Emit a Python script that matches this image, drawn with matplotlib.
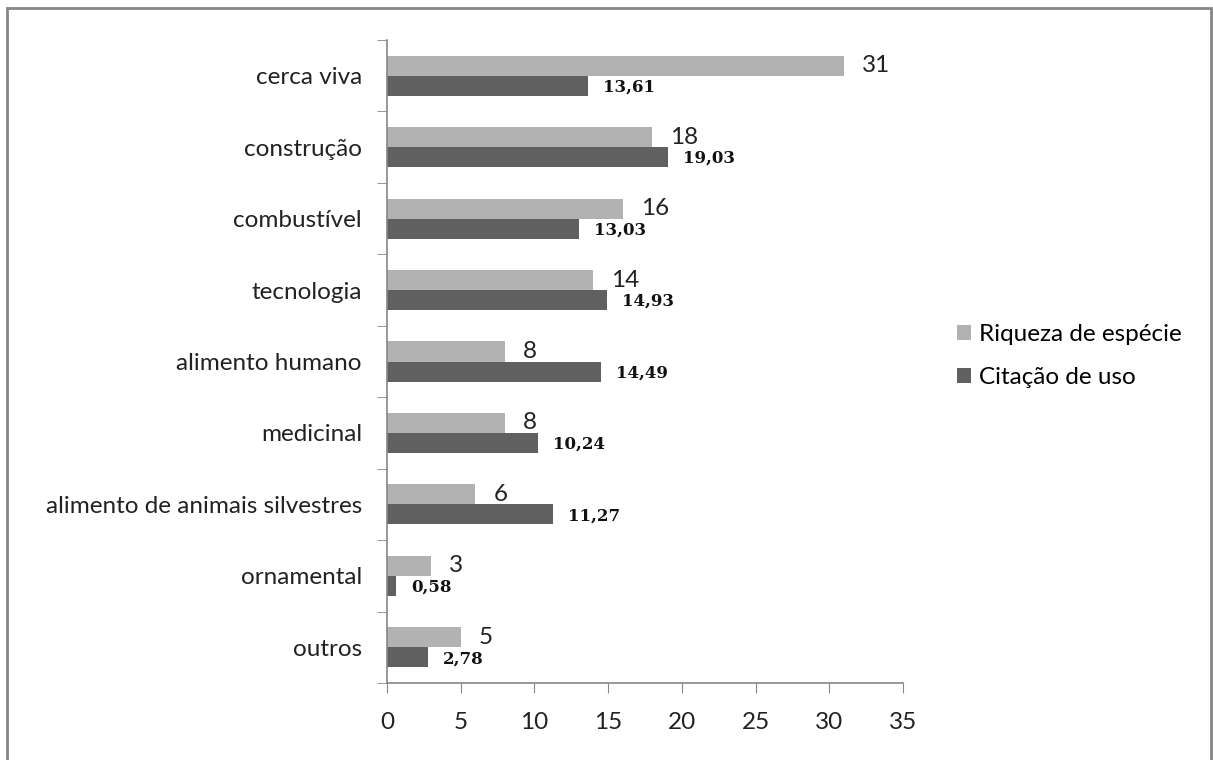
import numpy as np
import matplotlib.pyplot as plt
from matplotlib.patches import Rectangle

categorias = ['cerca viva', 'construção', 'combustível', 'tecnologia', 'alimento humano',
              'medicinal', 'alimento de animais silvestres', 'ornamental', 'outros']
riqueza = [31, 18, 16, 14, 8, 8, 6, 3, 5]
citacao = [13.61, 19.03, 13.03, 14.93, 14.49, 10.24, 11.27, 0.58, 2.78]
xticks = [0, 5, 10, 15, 20, 25, 30, 35]

cor_riqueza = '#b2b2b2'
cor_citacao = '#606060'
cinza = '#868686'
fonte = 'Lato'

fig = plt.figure(figsize=(12.13, 7.6), dpi=100)
ax = fig.add_axes([387 / 1213, 1 - 683 / 760, 516 / 1213, 643 / 760])

# moldura em volta do grafico
fig.patches.append(Rectangle((7 / 1213, -0.01), 1204 / 1213, 1 - 8 / 760 + 0.01,
                             transform=fig.transFigure, fill=False,
                             edgecolor=cinza, linewidth=2))

y = np.arange(len(categorias))
h = 0.28
b1 = ax.barh(y - h / 2, riqueza, height=h, color=cor_riqueza, label='Riqueza de espécie')
b2 = ax.barh(y + h / 2, citacao, height=h, color=cor_citacao, label='Citação de uso')

for i in range(len(categorias)):
    ax.annotate(str(riqueza[i]), (riqueza[i], y[i] - h / 2), xytext=(13, 0),
                textcoords='offset points', va='center', ha='left',
                fontsize=17.5, family=fonte, color='#222222')
    ax.annotate(('%.2f' % citacao[i]).replace('.', ','), (citacao[i], y[i] + h / 2),
                xytext=(11, -1), textcoords='offset points', va='center', ha='left',
                fontsize=12, family='DejaVu Serif', fontweight='bold', color='#111111')

ax.set_xlim(0, 35)
ax.set_ylim(len(categorias) - 0.5, -0.5)
ax.set_xticks(xticks)
ax.set_xticklabels([str(t) for t in xticks], fontsize=17.5, family=fonte, color='#222222')
ax.set_yticks(y)
ax.set_yticklabels(categorias, fontsize=17.5, family=fonte, color='#222222')
ax.set_yticks(np.arange(len(categorias) + 1) - 0.5, minor=True)
ax.tick_params(axis='y', which='major', length=0, pad=18)
ax.tick_params(axis='y', which='minor', length=7, color=cinza, direction='out')
ax.tick_params(axis='x', length=7, color=cinza, direction='out', pad=14)

for s in ['top', 'right']:
    ax.spines[s].set_visible(False)
for s in ['left', 'bottom']:
    ax.spines[s].set_color(cinza)
    ax.spines[s].set_linewidth(1.2)

leg = fig.legend(handles=[b1, b2], loc='center left', bbox_to_anchor=(935 / 1213, 1 - 356 / 760),
                 frameon=False, prop={'family': fonte, 'size': 17.5}, handlelength=0.6,
                 handleheight=0.6, handletextpad=0.3, labelspacing=0.9)

fig.savefig('out.png', dpi=100)
